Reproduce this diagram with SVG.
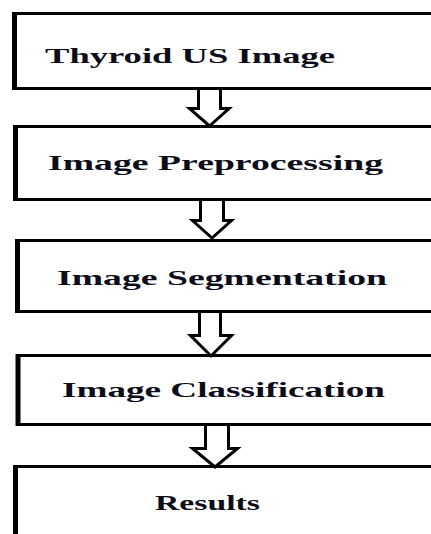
<svg xmlns="http://www.w3.org/2000/svg" width="431" height="534" viewBox="0 0 431 534">
<style>
.box{fill:#fff;stroke:#000;stroke-width:3}
.edge{stroke:#000;stroke-width:5}
.lbl{font-family:"Liberation Serif","Times New Roman",serif;font-weight:bold;font-size:22px;fill:#0d0d1a}
.arr{fill:#fff;stroke:#000;stroke-width:3;stroke-linejoin:miter}
</style>
<rect width="431" height="534" fill="#fff"/>
<g id="n1">
<rect class="box" x="14.5" y="13.5" width="440" height="75"/>
<line class="edge" x1="14.5" y1="12" x2="14.5" y2="90"/>
<text class="lbl" x="45" y="63" textLength="290" lengthAdjust="spacingAndGlyphs">Thyroid US Image</text>
</g>
<g id="n2">
<rect class="box" x="15.5" y="126.5" width="440" height="73"/>
<line class="edge" x1="15.5" y1="125" x2="15.5" y2="201"/>
<text class="lbl" x="48" y="170" textLength="335" lengthAdjust="spacingAndGlyphs">Image Preprocessing</text>
</g>
<g id="n3">
<rect class="box" x="17.5" y="240.5" width="440" height="71"/>
<line class="edge" x1="17.5" y1="239" x2="17.5" y2="313"/>
<text class="lbl" x="57" y="285" textLength="330" lengthAdjust="spacingAndGlyphs">Image Segmentation</text>
</g>
<g id="n4">
<rect class="box" x="18" y="355.5" width="440" height="69"/>
<line class="edge" x1="18" y1="354" x2="18" y2="426"/>
<text class="lbl" x="62" y="397" textLength="323" lengthAdjust="spacingAndGlyphs">Image Classification</text>
</g>
<g id="n5">
<rect class="box" x="15.5" y="466.5" width="440" height="100"/>
<line class="edge" x1="15.5" y1="465" x2="15.5" y2="540"/>
<text class="lbl" x="155" y="510" textLength="105" lengthAdjust="spacingAndGlyphs">Results</text>
</g>
<g id="connectors">
<path class="arr" d="M198.5,90 V108.5 H189.5 L209.5,126 L229,108.5 H220.5 V90"/>
<path class="arr" d="M200.5,201 V220.5 H192.5 L212,238 L231.5,220.5 H223.5 V201"/>
<path class="arr" d="M199.5,313 V335.5 H190.5 L211,356 L231.5,335.5 H220.5 V313"/>
<path class="arr" d="M205.5,426 V448.5 H192.5 L215,467 L237.5,448.5 H228.5 V426"/>
</g>
</svg>
